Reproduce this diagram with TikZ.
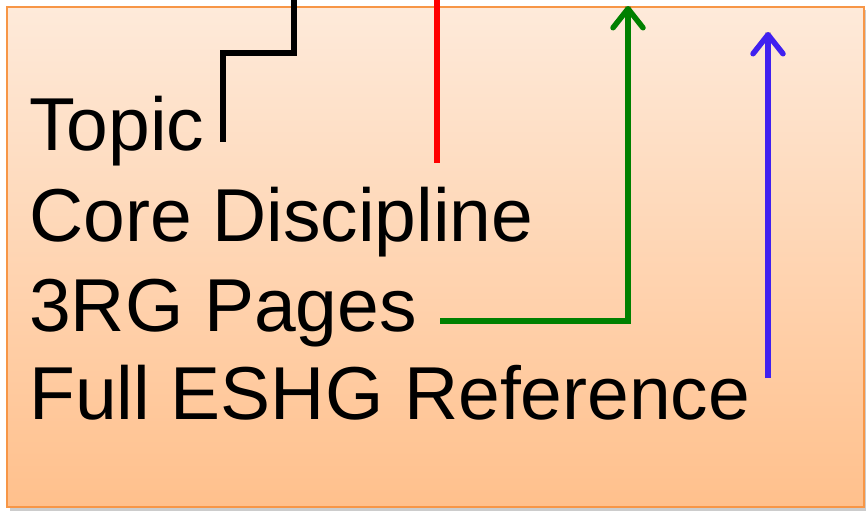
\documentclass[tikz,border=0pt]{standalone}
\usepackage{fontspec}
\setmainfont{Liberation Sans}
\usetikzlibrary{arrows.meta}

\definecolor{boxtop}{RGB}{254,234,218}
\definecolor{boxbottom}{RGB}{255,192,140}
\definecolor{boxedge}{RGB}{247,150,70}
\definecolor{linkgreen}{RGB}{0,128,0}
\definecolor{linkblue}{RGB}{64,32,240}
\definecolor{linkred}{RGB}{255,0,0}

\tikzset{
  label text/.style={anchor=base west, inner sep=0pt, font=\fontsize{75}{90}\selectfont, text=black},
  link/.style={line width=5.5pt},
  shadowed/.style={line width=5.5pt, draw=black, opacity=0.15},
  barb/.style={-{Straight Barb[length=19pt,width=30pt,line width=5.5pt,round]}},
}

\begin{document}
\begin{tikzpicture}[x=1pt, y=-1pt]
  \useasboundingbox (0,0) rectangle (866,512);
  \fill[white] (0,0) rectangle (866,512);

  % card shadow and gradient card
  \fill[black, opacity=0.2] (10,10) rectangle (866,511);
  \shade[top color=boxtop, bottom color=boxbottom, draw=boxedge, line width=2pt]
    (7,7) rectangle (864,507);

  % the four entries
  \node[label text] (topic) at (29,150) {Topic};
  \node[label text] (core)  at (29,241) {Core Discipline};
  \node[label text] (pages) at (29,331) {3RG Pages};
  \node[label text] (ref)   at (29,419) {Full ESHG Reference};

  % connector end points
  \coordinate (blackTop) at (294,0);
  \coordinate (blackBend1) at (294,53);
  \coordinate (blackBend2) at (223,53);
  \coordinate (blackEnd) at (223,142);
  \coordinate (redTop) at (437,0);
  \coordinate (redEnd) at (437,163);
  \coordinate (greenStart) at (440,321);
  \coordinate (greenBend) at (628,321);
  \coordinate (greenTip) at (628,6);
  \coordinate (blueStart) at (768,378);
  \coordinate (blueTip) at (768,32);

  % soft shadows of the connectors
  \begin{scope}[shift={(3,3)}]
    \draw[shadowed] (blackTop) -- (blackBend1) -- (blackBend2) -- (blackEnd);
    \draw[shadowed] (redTop) -- (redEnd);
    \draw[shadowed] (greenStart) -- (greenBend) -- (greenTip);
    \draw[shadowed] (blueStart) -- (blueTip);
  \end{scope}

  % connectors
  \draw[link, black] (blackTop) -- (blackBend1) -- (blackBend2) -- (blackEnd);
  \draw[link, linkred] (redTop) -- (redEnd);
  \draw[link, linkgreen, barb] (greenStart) -- (greenBend) -- (greenTip);
  \draw[link, linkblue, barb] (blueStart) -- (blueTip);
\end{tikzpicture}
\end{document}
